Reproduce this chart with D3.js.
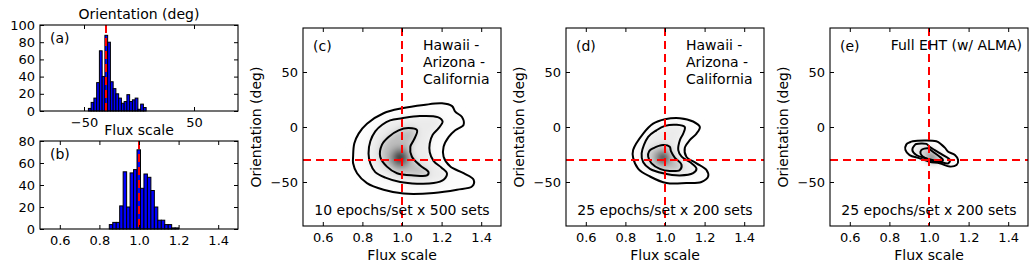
<!DOCTYPE html>
<html>
<head>
<meta charset="utf-8">
<script src="https://cdnjs.cloudflare.com/ajax/libs/d3/7.8.5/d3.min.js"></script>
<style>
body { margin: 0; background: #fff; }
text { font-family: "DejaVu Sans", sans-serif; fill: #000; }
.tick text { font-size: 13px; }
.lbl { font-size: 14px; }
</style>
</head>
<body>
<svg width="1036" height="272"></svg>
<script>
// ---- data ----
var trueFlux = 1.0, trueOrient = -30;

// histogram (a): orientation, 2.5 deg bins
var orientBinStart = -46, orientBinWidth = 2.5;
var orientCounts = [3, 10, 15, 33, 70, 40, 88, 80, 34, 26, 20, 15, 9, 11, 19, 11, 13, 15, 2, 8, 4];
// histogram (b): flux scale
var fluxBinStart = 0.85, fluxBinWidth = 0.0175;
var fluxCounts = [4, 6, 6, 21, 52, 20, 51, 54, 72, 37, 50, 47, 35, 20, 8, 8, 4, 4, 1, 1];

var orientTicksA = [-50, 50];
var countTicksA = [0, 20, 40, 60, 80, 100];
var countTicksB = [0, 20, 40, 60, 80];
var fluxTicks = [0.6, 0.8, 1.0, 1.2, 1.4];
var orientTicks = [-50, 0, 50];

// contour levels, [flux, orientation]
var outerC = [[0.753,-27],[0.759,-15],[0.781,-6],[0.823,3],[0.907,12.5],[1.0,17],[1.109,20],[1.202,21.5],[1.253,19],[1.269,14],[1.303,9],[1.311,2],[1.269,-3],[1.236,-9],[1.21,-18],[1.21,-27],[1.244,-36],[1.311,-42],[1.362,-48],[1.354,-54],[1.278,-57],[1.16,-60],[1.008,-60.5],[0.907,-57],[0.823,-51],[0.773,-42],[0.753,-33]];
var middleC = [[1.0,8],[0.94,6],[0.9,2],[0.865,-4],[0.84,-13],[0.831,-24],[0.84,-33],[0.865,-41],[0.916,-46],[0.991,-50],[1.076,-51.5],[1.16,-51],[1.21,-48],[1.227,-42],[1.2,-37],[1.16,-31],[1.14,-23],[1.14,-15],[1.155,-7],[1.185,-1],[1.205,5],[1.18,9],[1.09,10]];
var innerC = [[1.034,-1],[1.076,-3],[1.059,-12],[1.042,-18],[1.05,-27],[1.092,-35],[1.134,-41],[1.126,-44],[1.059,-44],[0.975,-42],[0.924,-36],[0.89,-27],[0.899,-16],[0.932,-9],[0.983,-3]];

var outerD = [[0.839,-21],[0.89,-6],[0.94,3],[1.0,7],[1.075,8],[1.142,5],[1.176,0],[1.159,-6],[1.125,-12],[1.1,-19],[1.108,-27],[1.159,-33],[1.209,-39],[1.218,-45],[1.184,-50],[1.108,-51],[1.008,-51],[0.924,-45],[0.865,-38],[0.839,-28]];
var middleD = [[0.882,-24],[0.915,-9],[0.957,-3],[1.0,1],[1.058,2],[1.1,0],[1.092,-6],[1.075,-12],[1.067,-21],[1.084,-27],[1.134,-33],[1.159,-38],[1.142,-42],[1.075,-44],[0.991,-42],[0.924,-38],[0.89,-32]];
var innerD = [[0.94,-19.4],[0.991,-16.4],[1.024,-18],[1.03,-22],[1.05,-28],[1.083,-34],[1.075,-39],[1.024,-40],[0.974,-38],[0.932,-33],[0.915,-27],[0.92,-22]];

var outerE = [[0.885,-16],[0.902,-14],[0.918,-13],[1.037,-13],[1.063,-16],[1.081,-19],[1.097,-22.5],[1.131,-25.5],[1.147,-30],[1.139,-34.6],[1.105,-36],[1.054,-33],[1.003,-31.6],[0.953,-28.5],[0.902,-25.5],[0.881,-21]];
var middleE = [[0.916,-21],[0.93,-16],[0.936,-15.4],[0.987,-15.4],[1.003,-18],[1.029,-21],[1.071,-25.5],[1.105,-30],[1.097,-33],[1.054,-31.6],[0.987,-28.5],[0.936,-25.5]];
var innerE = [[0.957,-24],[0.961,-21],[0.995,-19.4],[1.02,-22.5],[1.054,-27],[1.071,-30],[1.046,-31.6],[1.003,-30],[0.97,-27]];

// density peak: flux, orientation, spread in flux, spread in orientation
var peakC = [0.99, -28, 0.06, 11];
var peakD = [0.99, -28, 0.045, 8];
var peakE = [1.015, -28, 0.03, 5];

var panelTags = ["(c)", "(d)", "(e)"];
var arrayNotes = [["Hawaii -", "Arizona -", "California"], ["Hawaii -", "Arizona -", "California"], ["Full EHT (w/ ALMA)"]];
var setNotes = ["10 epochs/set x 500 sets", "25 epochs/set x 200 sets", "25 epochs/set x 200 sets"];

// ---- drawing ----
var svg = d3.select("svg");
var defs = svg.append("defs");
defs.append("filter").attr("id", "soft")
    .attr("x", "-50%").attr("y", "-50%").attr("width", "200%").attr("height", "200%")
  .append("feGaussianBlur").attr("stdDeviation", 3.5);
var grad = defs.append("radialGradient").attr("id", "core");
grad.append("stop").attr("offset", "0%").attr("stop-color", "#000").attr("stop-opacity", 1);
grad.append("stop").attr("offset", "45%").attr("stop-color", "#000").attr("stop-opacity", 0.6);
grad.append("stop").attr("offset", "100%").attr("stop-color", "#000").attr("stop-opacity", 0);

var fmtNum = d3.format("");
var fmtFlux = d3.format(".1f");

function frame(g, w, h, x, y, xt, yt, xf) {
  function strip(s) { s.select(".domain").remove(); }
  g.append("g").attr("transform", "translate(0," + h + ")")
    .call(d3.axisBottom(x).tickValues(xt).tickFormat(xf).tickSizeInner(-4).tickSizeOuter(0).tickPadding(6.5)).call(strip);
  g.append("g")
    .call(d3.axisTop(x).tickValues(xt).tickFormat("").tickSizeInner(-4).tickSizeOuter(0)).call(strip);
  g.append("g")
    .call(d3.axisLeft(y).tickValues(yt).tickFormat(fmtNum).tickSizeInner(-4).tickSizeOuter(0).tickPadding(5)).call(strip);
  g.append("g").attr("transform", "translate(" + w + ",0)")
    .call(d3.axisRight(y).tickValues(yt).tickFormat("").tickSizeInner(-4).tickSizeOuter(0)).call(strip);
  g.selectAll(".tick line").attr("stroke", "#000");
  g.append("rect").attr("width", w).attr("height", h)
    .attr("fill", "none").attr("stroke", "#000").attr("stroke-width", 1.1);
}

function redLine(g, x1, y1, x2, y2) {
  g.append("line").attr("x1", x1).attr("y1", y1).attr("x2", x2).attr("y2", y2)
    .attr("stroke", "#ff0000").attr("stroke-width", 2).attr("stroke-dasharray", "8,5");
}

function histogram(left, top, w, h, start, step, counts, xDomain, yMax, xt, yt, xf, tag, title) {
  var g = svg.append("g").attr("transform", "translate(" + left + "," + top + ")");
  var x = d3.scaleLinear().domain(xDomain).range([0, w]);
  var y = d3.scaleLinear().domain([0, yMax]).range([h, 0]);
  g.selectAll("rect.bar").data(counts).enter().append("rect")
    .attr("class", "bar")
    .attr("x", function(d, i) { return x(start + i * step); })
    .attr("width", function(d, i) { return x(start + (i + 1) * step) - x(start + i * step); })
    .attr("y", function(d) { return y(d); })
    .attr("height", function(d) { return h - y(d); })
    .attr("fill", "#0000ff").attr("stroke", "#000").attr("stroke-width", 1);
  var truth = xDomain[0] < 0 ? trueOrient : trueFlux;
  redLine(g, x(truth), 0, x(truth), h);
  frame(g, w, h, x, y, xt, yt, xf);
  g.append("text").attr("class", "lbl").attr("x", 10).attr("y", 13).attr("dy", "0.35em").text(tag);
  g.append("text").attr("class", "lbl").attr("x", w / 2).attr("y", -11).attr("dy", "0.35em")
    .attr("text-anchor", "middle").text(title);
}

histogram(40, 25, 198, 86, orientBinStart, orientBinWidth, orientCounts, [-90, 90], 100,
  orientTicksA, countTicksA, fmtNum, "(a)", "Orientation (deg)");
histogram(40, 141, 198, 88, fluxBinStart, fluxBinWidth, fluxCounts, [0.5, 1.5], 80,
  fluxTicks, countTicksB, fmtFlux, "(b)", "Flux scale");

var lefts = [303, 566, 830];
var contours = [[outerC, middleC, innerC], [outerD, middleD, innerD], [outerE, middleE, innerE]];
var peaks = [peakC, peakD, peakE];
var fills = ["#fcfcfc", "#ebebeb", "#bdbdbd"];
var W = 198, H = 198, TOP = 28;

lefts.forEach(function(left, k) {
  var g = svg.append("g").attr("transform", "translate(" + left + "," + TOP + ")");
  var x = d3.scaleLinear().domain([0.5, 1.5]).range([0, W]);
  var y = d3.scaleLinear().domain([-90, 90]).range([H, 0]);
  var line = d3.line().x(function(d) { return x(d[0]); }).y(function(d) { return y(d[1]); })
    .curve(d3.curveCatmullRomClosed.alpha(0.5));

  defs.append("clipPath").attr("id", "clip" + k)
    .append("rect").attr("width", W).attr("height", H);
  var plot = g.append("g").attr("clip-path", "url(#clip" + k + ")");

  var shade = plot.append("g").attr("filter", "url(#soft)");
  shade.selectAll("path").data(contours[k]).enter().append("path")
    .attr("d", line).attr("fill", function(d, i) { return fills[i]; });
  var p = peaks[k];
  shade.append("ellipse")
    .attr("cx", x(p[0])).attr("cy", y(p[1]))
    .attr("rx", x(p[0] + p[2]) - x(p[0])).attr("ry", y(p[1] - p[3]) - y(p[1]))
    .attr("fill", "url(#core)");

  plot.selectAll("path.lvl").data(contours[k]).enter().append("path")
    .attr("class", "lvl").attr("d", line)
    .attr("fill", "none").attr("stroke", "#000").attr("stroke-width", 2).attr("stroke-linejoin", "round");

  redLine(plot, x(trueFlux), 0, x(trueFlux), H);
  redLine(plot, 0, y(trueOrient), W, y(trueOrient));

  frame(g, W, H, x, y, fluxTicks, orientTicks, fmtFlux);

  g.append("text").attr("class", "lbl").attr("x", 10).attr("y", 18).attr("dy", "0.35em").text(panelTags[k]);
  var notes = arrayNotes[k];
  notes.forEach(function(t, i) {
    var txt = g.append("text").attr("class", "lbl").attr("y", 17 + i * 17).attr("dy", "0.35em").text(t);
    if (notes.length > 1) txt.attr("x", 120);
    else txt.attr("x", W - 6).attr("text-anchor", "end");
  });
  g.append("text").attr("class", "lbl").attr("x", W / 2).attr("y", 182).attr("dy", "0.35em")
    .attr("text-anchor", "middle").text(setNotes[k]);

  g.append("text").attr("class", "lbl").attr("x", W / 2).attr("y", H + 29).attr("dy", "0.35em")
    .attr("text-anchor", "middle").text("Flux scale");
  g.append("text").attr("class", "lbl")
    .attr("transform", "translate(-47," + (H / 2) + ") rotate(-90)")
    .attr("dy", "0.35em").attr("text-anchor", "middle").text("Orientation (deg)");
});
</script>
</body>
</html>
